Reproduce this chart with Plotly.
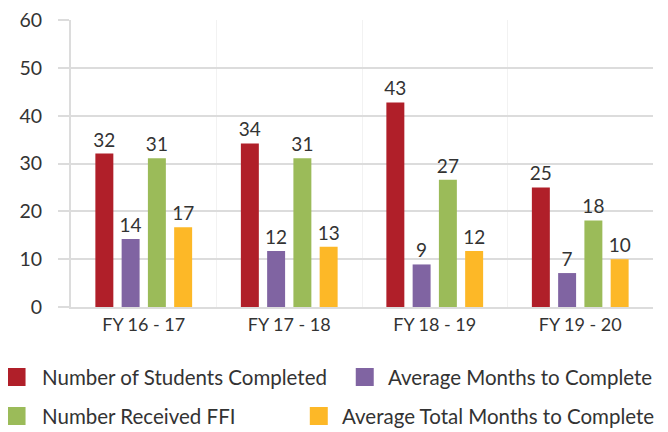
import plotly.graph_objects as go

categories = ["FY 16 - 17", "FY 17 - 18", "FY 18 - 19", "FY 19 - 20"]
students_completed = [32.1, 34.2, 42.8, 25.0]
avg_months = [14.2, 11.7, 8.9, 7.1]
received_ffi = [31.1, 31.1, 26.6, 18.1]
avg_total_months = [16.7, 12.6, 11.7, 10.0]
y_ticks = [0, 10, 20, 30, 40, 50, 60]

series_names = ["Number of Students Completed", "Average Months to Complete",
                "Number Received FFI", "Average Total Months to Complete"]
series_values = [students_completed, avg_months, received_ffi, avg_total_months]
colors = ["#B01F29", "#8064A2", "#9BBB59", "#FDB827"]

FONT = "Lato"
TXT = "#333333"
GRID = "#dcdcdc"
OFF = 8  # page body margin in the browser
W, H = 668 - OFF, 432 - OFF
ML, MR, MT, MB = 71 - OFF, 14.5, 20 - OFF, 125
PW, PH = W - ML - MR, H - MT - MB

fig = go.Figure()
for name, vals, col in zip(series_names, series_values, colors):
    fig.add_trace(go.Bar(
        name=name, x=categories, y=vals, marker_color=col,
        marker_line_width=0,
        text=[f"{v:.0f}" for v in vals], textposition="outside",
        constraintext="none",
        textfont=dict(family=FONT, size=19, color=TXT),
        cliponaxis=False, showlegend=False,
    ))

# Custom legend (justified two-row layout like the original)
def px(x):
    return (x - OFF - ML) / PW

def py(y):
    return (H - MB - (y - OFF)) / PH

legend_layout = [  # (marker left px, text left px, row center px) in page pixels
    (7.5, 39.5, 377),
    (356, 386, 377),
    (7.5, 39.5, 416),
    (310, 340, 416),
]
shapes = []
annotations = []
for (mx, tx, cy), name, col in zip(legend_layout, series_names, colors):
    shapes.append(dict(type="rect", xref="paper", yref="paper",
                       x0=px(mx), x1=px(mx + 18), y0=py(cy - 9), y1=py(cy + 9),
                       fillcolor=col, line_width=0, layer="above"))
    annotations.append(dict(xref="paper", yref="paper", x=px(tx), y=py(cy),
                            xanchor="left", yanchor="middle", showarrow=False,
                            text=name, font=dict(family=FONT, size=20.5, color=TXT)))

fig.update_layout(
    width=W, height=H,
    margin=dict(l=ML, r=MR, t=MT, b=MB),
    plot_bgcolor="white", paper_bgcolor="white",
    barmode="group", bargap=0.278, bargroupgap=0.316,
    font=dict(family=FONT, size=18, color=TXT),
    showlegend=False,
    shapes=shapes, annotations=annotations,
)
fig.update_xaxes(
    showline=True, linecolor=GRID, linewidth=2,
    showgrid=True, gridcolor="#f2f2f2", tickson="boundaries",
    ticks="", tickfont=dict(family=FONT, size=18, color=TXT),
    automargin=False,
)
fig.update_yaxes(
    range=[0, 60.03], tickmode="array", tickvals=y_ticks,
    showgrid=True, gridcolor=GRID, gridwidth=1.5,
    showline=True, linecolor=GRID, linewidth=2,
    ticks="outside", ticklen=11, tickcolor=GRID, tickwidth=1.5,
    ticklabelstandoff=12, zeroline=False, ticklabeloverflow="allow",
    tickfont=dict(family=FONT, size=19.5, color=TXT),
    automargin=False,
)
fig.write_html("out.html")
